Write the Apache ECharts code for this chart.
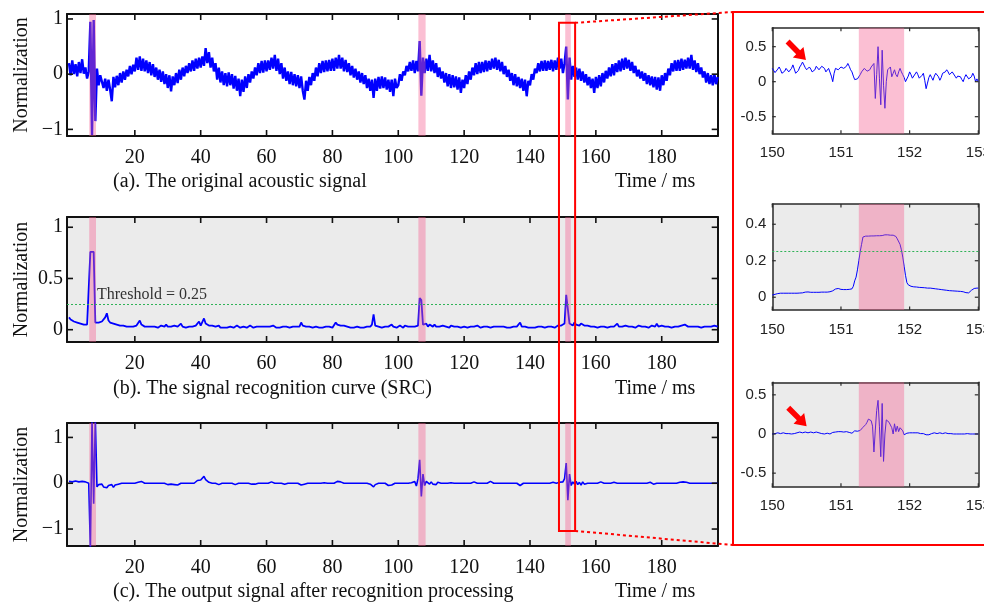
<!DOCTYPE html>
<html><head><meta charset="utf-8">
<script src="https://cdn.jsdelivr.net/npm/echarts@6/dist/echarts.min.js"></script>
<style>html,body{margin:0;padding:0;background:#fff}#c{width:984px;height:603px}</style>
</head><body><div id="c"></div>
<script>
// ---------------- data ----------------
const timeTicks = [20, 40, 60, 80, 100, 120, 140, 160, 180];
const yTicksA = [-1, 0, 1];
const yTicksB = [0, 0.5, 1];
const yTicksC = [-1, 0, 1];
const zoomTicks = [150, 151, 152, 153];
const yTicksZA = [-0.5, 0, 0.5];
const yTicksZB = [0, 0.2, 0.4];
const yTicksZC = [-0.5, 0, 0.5];

const recognizedBands = [[6.15, 8.2], [106.1, 108.3], [150.7, 152.4]];
const zoomBand = [[151.26, 151.92]];
const threshold = 0.25;
const zoomBox = [148.8, 153.7];

// main signals: sampled every 0.5 ms from 0 ms
const mainStart = 0, mainStep = 0.5;
const originalSignal = [
 0.2,-0.02,0.25,0.0,0.18,-0.04,0.22,0.02,0.27,0.01,
 0.12,-0.08,0.05,0.95,-1.1,0.98,-0.85,0.1,-0.2,-0.02,
 -0.05,-0.25,-0.08,-0.3,-0.1,-0.28,-0.49,-0.05,-0.24,-0.03,
 -0.2,0.02,-0.15,0.05,-0.1,0.08,-0.04,0.15,0.0,0.17,
 0.05,0.3,0.08,0.32,0.06,0.28,0.05,0.25,0.02,0.22,
 -0.02,0.18,-0.05,0.12,-0.1,0.08,-0.14,0.05,-0.18,0.0,
 -0.25,-0.02,-0.31,-0.04,-0.2,0.02,-0.16,0.08,-0.1,0.12,
 -0.04,0.15,0.02,0.2,0.05,0.25,0.06,0.28,0.1,0.3,
 0.12,0.32,0.15,0.47,0.2,0.4,0.12,0.3,0.05,0.2,
 -0.1,0.12,-0.15,0.05,-0.2,0.02,-0.22,0.03,-0.2,0.0,
 -0.26,-0.03,-0.3,-0.08,-0.4,-0.1,-0.32,-0.04,-0.25,0.0,
 -0.15,0.05,-0.08,0.12,-0.02,0.2,0.02,0.24,0.03,0.25,
 0.05,0.25,0.08,0.3,0.1,0.35,0.06,0.28,0.0,0.2,
 -0.08,0.12,-0.12,0.05,-0.18,0.04,-0.2,0.0,-0.22,-0.02,
 -0.25,-0.04,-0.3,-0.46,-0.12,-0.3,-0.05,-0.2,0.02,-0.12,
 0.12,-0.04,0.2,0.02,0.24,0.04,0.25,0.05,0.26,0.06,
 0.28,0.06,0.3,0.1,0.35,0.1,0.3,0.05,0.26,0.04,
 0.2,-0.02,0.15,-0.06,0.1,-0.1,0.05,-0.15,0.02,-0.18,
 -0.02,-0.25,-0.08,-0.3,-0.1,-0.43,-0.08,-0.3,-0.05,-0.26,
 -0.04,-0.25,-0.06,-0.28,-0.1,-0.32,-0.1,-0.4,-0.08,-0.25,
 -0.2,0.0,-0.12,0.05,-0.02,0.15,0.05,0.22,0.06,0.25,
 0.02,0.24,0.05,0.6,-0.39,0.3,0.02,0.28,0.06,0.35,
 0.05,0.25,0.02,0.2,-0.05,0.12,-0.08,0.05,-0.15,0.02,
 -0.22,0.0,-0.25,-0.02,-0.24,-0.04,-0.28,-0.06,-0.34,-0.1,
 -0.25,-0.02,-0.18,0.05,-0.1,0.12,-0.02,0.2,0.0,0.22,
 0.02,0.22,0.04,0.25,0.05,0.24,0.08,0.28,0.1,0.3,
 0.08,0.26,0.05,0.22,0.0,0.15,-0.05,0.08,-0.12,0.02,
 -0.2,0.0,-0.22,-0.05,-0.25,-0.08,-0.3,-0.1,-0.4,-0.12,
 -0.2,0.0,-0.1,0.1,0.02,0.2,0.05,0.24,0.06,0.25,
 0.06,0.24,0.08,0.26,0.05,0.25,0.08,0.3,0.1,0.28,
 0.02,0.2,0.5,-0.46,0.3,-0.1,0.15,-0.05,0.12,-0.1,
 0.1,-0.12,0.05,-0.15,0.0,-0.2,-0.05,-0.25,-0.08,-0.34,
 -0.05,-0.25,-0.02,-0.22,0.02,-0.15,0.06,-0.08,0.12,-0.04,
 0.18,-0.02,0.2,0.04,0.25,0.05,0.28,0.08,0.3,0.1,
 0.26,0.06,0.22,0.02,0.15,-0.04,0.08,-0.08,0.05,-0.12,
 0.02,-0.18,-0.02,-0.2,-0.04,-0.24,-0.05,-0.28,-0.06,-0.3,
 -0.02,-0.2,0.02,-0.12,0.1,-0.02,0.2,0.05,0.25,0.06,
 0.26,0.06,0.28,0.08,0.26,0.1,0.3,0.1,0.35,0.08,
 0.25,0.04,0.2,0.0,0.12,-0.06,0.05,-0.15,0.02,-0.18,
 -0.02,-0.2,0.0,-0.18,-0.05
];
const recognitionCurve = [
 .12,.1,.09,.08,.07,.07,.06,.06,.07,.05,
 .06,.05,.06,.76,.77,.76,.07,.08,.07,.08,
 .08,.09,.12,.16,.09,.07,.06,.06,.05,.05,
 .04,.04,.05,.04,.03,.03,.04,.03,.03,.03,
 .03,.04,.03,.09,.05,.04,.03,.04,.03,.03,
 .03,.02,.03,.03,.02,.03,.04,.03,.03,.05,
 .03,.04,.03,.03,.04,.05,.03,.04,.06,.03,
 .03,.02,.03,.03,.02,.03,.03,.04,.04,.08,
 .04,.04,.11,.06,.05,.04,.03,.04,.03,.03,
 .03,.04,.02,.03,.02,.03,.02,.02,.03,.03,
 .02,.03,.04,.03,.02,.02,.03,.02,.02,.03,
 .04,.03,.02,.03,.03,.02,.03,.04,.03,.02,
 .03,.02,.03,.03,.04,.03,.02,.03,.02,.03,
 .03,.02,.03,.03,.02,.02,.03,.02,.03,.02,
 .03,.07,.04,.03,.03,.02,.03,.03,.02,.03,
 .03,.02,.02,.03,.02,.02,.03,.02,.03,.02,
 .02,.03,.07,.05,.04,.04,.03,.04,.03,.03,
 .03,.02,.03,.02,.02,.03,.03,.02,.03,.02,
 .03,.03,.02,.03,.05,.15,.04,.03,.03,.02,
 .02,.03,.03,.02,.03,.02,.05,.03,.03,.02,
 .03,.04,.03,.02,.04,.03,.03,.02,.03,.04,
 .03,.04,.04,.31,.29,.05,.04,.06,.03,.05,
 .04,.03,.05,.03,.04,.03,.03,.04,.03,.03,
 .03,.02,.04,.03,.03,.04,.03,.03,.02,.03,
 .03,.03,.02,.03,.03,.02,.03,.03,.04,.03,
 .02,.03,.03,.02,.03,.03,.02,.03,.03,.04,
 .03,.02,.03,.02,.03,.03,.02,.03,.02,.03,
 .03,.02,.03,.03,.07,.03,.04,.03,.02,.02,
 .03,.02,.03,.02,.02,.03,.02,.03,.02,.02,
 .02,.03,.02,.03,.02,.02,.03,.04,.03,.04,
 .05,.06,.34,.33,.06,.05,.04,.07,.05,.06,
 .04,.06,.05,.04,.03,.04,.03,.03,.04,.03,
 .03,.02,.03,.03,.02,.03,.03,.02,.03,.03,
 .04,.03,.03,.06,.03,.04,.03,.03,.04,.03,
 .03,.02,.03,.03,.02,.03,.04,.03,.03,.02,
 .03,.03,.02,.03,.04,.03,.03,.06,.03,.03,
 .04,.03,.03,.02,.03,.03,.02,.03,.03,.04,
 .03,.03,.04,.03,.05,.04,.03,.04,.03,.03,
 .03,.04,.03,.03,.02,.03,.03,.04,.03,.03,
 .03,.03,.04,.03,.03
];
const outputSignal = [
 .04,.05,.03,.04,.05,.04,.03,.05,.04,.04,
 .03,.02,0,-1.45,1.4,-.45,1.4,-.08,-.03,-.06,
 -.02,-.08,-.04,-.1,-.05,-.07,-.03,-.09,-.04,-.06,
 -.02,0,0,0,0,0,0,0,0,0,
 0,0,.02,.06,.04,.02,0,0,0,0,
 0,0,0,0,0,0,0,0,0,-.02,
 -.03,-.01,-.02,0,-.03,-.02,-.04,-.02,0,0,
 0,0,0,0,0,0,0,.03,.06,.04,
 .07,.05,.15,.08,.04,.02,0,0,0,0,
 0,-.03,0,0,0,0,0,0,0,0,
 0,-.03,-.02,0,0,0,0,0,0,0,
 0,-.02,.01,-.02,.02,0,0,0,0,0,
 0,0,0,.03,0,0,0,0,0,0,
 0,-.02,0,0,0,0,0,0,0,0,
 0,-.04,-.06,-.02,0,0,0,0,0,0,
 0,0,0,0,.03,.01,0,0,0,0,
 0,0,.02,.04,.02,.03,0,0,0,0,
 0,0,0,0,0,0,0,0,0,0,
 0,0,0,-.02,-.04,-.08,-.03,0,0,0,
 0,0,0,-.02,-.05,-.03,-.04,0,0,0,
 0,0,0,0,0,0,0,.03,.01,.02,
 .04,-.06,.1,.51,-.29,.2,-.05,.04,.03,-.02,
 .03,-.02,.02,-.03,.02,-.02,0,0,0,0,
 0,0,.01,-.02,0,0,0,0,0,0,
 0,0,0,0,0,.02,.03,0,0,0,
 0,0,0,0,0,.02,.04,.02,0,0,
 0,0,0,0,0,0,0,0,0,0,
 0,0,0,-.02,-.05,-.03,0,0,0,0,
 0,0,0,0,0,0,0,0,0,0,
 0,0,0,0,.02,.03,0,0,.02,.05,
 .03,.1,.44,-.37,.2,-.05,.03,-.02,.04,-.03,
 .02,-.04,.03,-.02,0,0,0,0,0,0,
 0,0,0,.03,.02,0,0,0,0,0,
 0,.02,-.02,0,.03,0,-.02,0,.02,0,
 0,0,0,0,.02,0,-.02,0,0,0,
 0,0,0,.02,0,-.02,.02,0,0,0,
 0,0,0,0,0,0,0,0,0,0,
 0,.02,.04,.03,.04,.02,0,0,0,0,
 0,0,0,0,0,0,0,0,0,0,
 0,0,0,0,0
];

// zoomed signals: 150..153 ms sampled every 0.02 ms
const zoomStart = 150, zoomStep = 0.02;
const zoomOriginal = [
 .19,.16,.13,.14,.18,.21,.17,.12,.11,.15,
 .19,.17,.14,.14,.19,.24,.18,.12,.10,.16,
 .21,.24,.28,.27,.20,.17,.19,.21,.18,.14,
 .12,.17,.22,.20,.17,.18,.22,.24,.19,.14,
 .16,.19,.19,.08,.00,.12,.19,.18,.17,.19,
 .21,.20,.19,.19,.22,.26,.22,.17,.14,.08,
 .03,.02,.04,.06,.10,.14,.16,.19,.17,.15,
 .14,.17,.21,.23,.26,-.24,.10,.50,.05,-.33,
 .45,-.05,-.38,.00,.17,.19,.21,.07,.12,.17,
 .10,.07,.14,.19,.14,.10,.06,.00,-.02,.08,
 .14,.10,.05,.06,.11,.14,.10,.05,.05,.09,
 .12,.02,-.10,-.02,.06,.10,.06,.02,.08,.12,
 .14,.07,.02,.06,.12,.10,.14,.17,.14,.10,
 .12,.14,.12,.08,.05,.08,.10,.07,.03,.00,
 .06,.10,.08,.04,.02,.07,.12,.08,.00,.04,
 .00
];
const zoomRecognition = [
 .012,.014,.016,.018,.02,.021,.022,.022,.022,.022,
 .022,.022,.022,.022,.022,.022,.022,.022,.022,.022,
 .023,.024,.024,.026,.028,.029,.029,.028,.027,.027,
 .027,.027,.027,.027,.027,.027,.028,.028,.028,.028,
 .028,.029,.03,.032,.035,.04,.045,.048,.048,.046,
 .043,.042,.042,.042,.042,.043,.043,.044,.046,.06,
 .09,.11,.15,.2,.25,.29,.33,.335,.335,.335,
 .335,.335,.336,.336,.336,.336,.337,.337,.337,.338,
 .338,.34,.342,.342,.342,.341,.34,.34,.34,.338,
 .333,.32,.31,.29,.26,.22,.17,.12,.08,.068,
 .063,.06,.058,.057,.056,.056,.055,.054,.054,.053,
 .052,.052,.051,.05,.05,.05,.049,.048,.047,.046,
 .045,.044,.043,.042,.041,.04,.039,.038,.037,.036,
 .035,.035,.034,.034,.033,.033,.032,.032,.031,.03,
 .028,.025,.023,.024,.03,.038,.044,.048,.049,.05,
 .05
];
const zoomOutput = [
 0,0,.005,.01,.015,.01,.005,.01,.015,.01,
 .005,0,.005,.005,0,0,.005,.01,.015,.02,
 .025,.02,.015,.02,.025,.02,.015,.02,.025,.02,
 .015,.02,.025,.02,.015,.01,.005,0,0,.005,
 .01,.005,0,.01,.02,.025,.025,.03,.03,.025,
 .03,.03,.025,.03,.03,.025,.02,.015,.01,.02,
 .04,.05,.035,.03,.045,.07,.085,.1,.12,.15,
 .19,.2,.17,.1,-.23,.05,.3,.43,.1,-.29,
 .39,-.35,0,.18,.16,.15,.17,.08,0,.13,
 .03,.1,.03,.08,.06,.04,-.01,0,.01,.02,
 .015,.02,.015,.01,.015,.02,.015,.01,.005,.01,
 .005,0,-.01,-.02,-.01,0,.005,.01,.015,.01,
 .005,.01,.015,.01,.005,.01,.015,.01,.005,.01,
 .005,0,0,.005,0,0,0,0,0,.005,
 0,0,.005,0,0,0,0,.005,0,0,
 0
];

// ---------------- chart ----------------
const SERIF = '"Liberation Serif", "Times New Roman", serif';
const SANS = '"Liberation Sans", Arial, sans-serif';
const BLUE = '#0000ff';
const PINK = 'rgba(245,95,145,0.4)';
const GRAY = '#ebebeb';

const panels = [
  {rect:[67,14,650.7,122], bg:'#fff', x:[-0.6,197], y:[-1.12,1.09], xt:timeTicks, yt:yTicksA, main:true,
   data:originalSignal, start:mainStart, step:mainStep, bands:recognizedBands, lw:2.4},
  {rect:[67,217,650.7,125], bg:GRAY, x:[-0.6,197], y:[-0.12,1.1], xt:timeTicks, yt:yTicksB, main:true,
   data:recognitionCurve, start:mainStart, step:mainStep, bands:recognizedBands, lw:1.8, thr:true},
  {rect:[67,423,650.7,123], bg:GRAY, x:[-0.6,197], y:[-1.37,1.315], xt:timeTicks, yt:yTicksC, main:true,
   data:outputSignal, start:mainStart, step:mainStep, bands:recognizedBands, lw:1.6},
  {rect:[772.3,27.7,206,106], bg:'#fff', x:[150,153], y:[-0.743,0.771], xt:zoomTicks, yt:yTicksZA, main:false,
   data:zoomOriginal, start:zoomStart, step:zoomStep, bands:zoomBand, lw:1},
  {rect:[772.3,204,206,106], bg:GRAY, x:[150,153], y:[-0.07,0.511], xt:zoomTicks, yt:yTicksZB, main:false,
   data:zoomRecognition, start:zoomStart, step:zoomStep, bands:zoomBand, lw:1, thr:true},
  {rect:[772.3,382.3,206,104.4], bg:GRAY, x:[150,153], y:[-0.673,0.66], xt:zoomTicks, yt:yTicksZC, main:false,
   data:zoomOutput, start:zoomStart, step:zoomStep, bands:zoomBand, lw:1}
];

const grid = [], xAxis = [], yAxis = [], series = [];
panels.forEach((p, gi) => {
  grid.push({left:p.rect[0], top:p.rect[1], width:p.rect[2], height:p.rect[3], show:true,
    containLabel:false, outerBoundsMode:'none',
    backgroundColor:p.bg, borderWidth:0});
  const font = p.main ? {fontFamily:SERIF, fontSize:20, color:'#111'} : {fontFamily:SANS, fontSize:15, color:'#222'};
  const lineW = p.main ? 2 : 1.5;
  const frameColor = p.main ? '#111' : '#2a2a2a';
  const yFmt = p.main ? (v => (v < 0 ? '\u2212' : '') + Math.abs(v)) : (v => String(v));
  ['bottom','top'].forEach((pos, k) => {
    xAxis.push({type:'value', gridIndex:gi, position:pos, min:p.x[0], max:p.x[1],
      axisLine:{show:true, onZero:false, lineStyle:{color:frameColor, width:lineW}}, splitLine:{show:false},
      axisTick:{show:false},
      axisLabel: k === 0 ? Object.assign({show:true, customValues:p.xt, margin:12,
         showMinLabel:true, showMaxLabel:true, formatter: v => String(v)}, font) : {show:false}});
  });
  ['left','right'].forEach((pos, k) => {
    yAxis.push({type:'value', gridIndex:gi, position:pos, min:p.y[0], max:p.y[1],
      axisLine:{show:true, onZero:false, lineStyle:{color:frameColor, width:lineW}}, splitLine:{show:false},
      axisTick:{show:false},
      axisLabel: k === 0 ? Object.assign({show:true, customValues:p.yt, margin: p.main ? 4 : 6,
         showMinLabel:true, showMaxLabel:true, formatter: yFmt}, font) : {show:false}});
  });
  const line = {type:'line', xAxisIndex:2*gi, yAxisIndex:2*gi, symbol:'none', showSymbol:false,
    animation:false, silent:true, z:2,
    lineStyle:{color:BLUE, width:p.lw},
    data: p.data.map((v, i) => [p.start + i * p.step, v])};
  if (p.thr) {
    line.markLine = {silent:true, animation:false, symbol:['none','none'], label:{show:false},
      lineStyle:{color:'#2fb257', type:[2,2], width:1}, data:[{yAxis:threshold}]};
  }
  series.push(line);
  series.push({type:'custom', xAxisIndex:2*gi, yAxisIndex:2*gi, z:3, silent:true, animation:false,
    data:p.bands, encode:{x:[0,1]},
    renderItem:(params, api) => {
      const s = api.coord([api.value(0), p.y[0]]);
      const e = api.coord([api.value(1), p.y[0]]);
      const cs = params.coordSys;
      return {type:'rect', shape:{x:s[0], y:cs.y, width:e[0]-s[0], height:cs.height}, style:{fill:PINK}};
    }});
});

const chart = echarts.init(document.getElementById('c'));
chart.setOption({animation:false, backgroundColor:'#fff', grid, xAxis, yAxis, series});

// ---------------- annotations ----------------
const graphic = [];
// inward tick marks on all four sides of every panel, placed through the axes
panels.forEach((p, gi) => {
  const finder = {xAxisIndex:2*gi, yAxisIndex:2*gi};
  const bl = chart.convertToPixel(finder, [p.x[0], p.y[0]]);
  const tr = chart.convertToPixel(finder, [p.x[1], p.y[1]]);
  const len = p.main ? 6 : 3.5;
  const st = {stroke: p.main ? '#111' : '#2a2a2a', lineWidth: p.main ? 1.6 : 1.2};
  p.xt.forEach(v => {
    const x = chart.convertToPixel(finder, [v, p.y[0]])[0];
    graphic.push({type:'line', z:40, silent:true, shape:{x1:x, y1:bl[1], x2:x, y2:bl[1]-len}, style:st});
    graphic.push({type:'line', z:40, silent:true, shape:{x1:x, y1:tr[1], x2:x, y2:tr[1]+len}, style:st});
  });
  p.yt.forEach(v => {
    const y = chart.convertToPixel(finder, [p.x[0], v])[1];
    graphic.push({type:'line', z:40, silent:true, shape:{x1:bl[0], y1:y, x2:bl[0]+len, y2:y}, style:st});
    graphic.push({type:'line', z:40, silent:true, shape:{x1:tr[0], y1:y, x2:tr[0]-len, y2:y}, style:st});
  });
});

const txt = (x, y, text, size) => ({type:'text', x, y, z:50, silent:true,
  style:{text, font: size + 'px ' + SERIF, fill:'#111', textAlign:'left', textVerticalAlign:'middle'}});
const captions = ['(a). The original acoustic signal', '(b). The signal recognition curve (SRC)',
  '(c). The output signal after recognition processing'];
const capY = [182, 389, 592];
captions.forEach((c, i) => {
  graphic.push(txt(113, capY[i], c, 20));
  graphic.push(txt(615, capY[i], 'Time / ms', 20));
});
[0,1,2].forEach(i => {
  const r = panels[i].rect;
  graphic.push({type:'text', x:21.5, y:r[1] + r[3]/2, rotation:Math.PI/2, z:50, silent:true,
    style:{text:'Normalization', font:'20px ' + SERIF, fill:'#111', textAlign:'center', textVerticalAlign:'middle'}});
});
graphic.push({type:'text', x:97, y:295, z:50, silent:true,
  style:{text:'Threshold = 0.25', font:'16px ' + SERIF, fill:'#333', textAlign:'left', textVerticalAlign:'middle'}});

const tl = chart.convertToPixel({xAxisIndex:0, yAxisIndex:0}, [zoomBox[0], 0.93]);
const br = chart.convertToPixel({xAxisIndex:4, yAxisIndex:4}, [zoomBox[1], -1.04]);
graphic.push({type:'rect', z:60, silent:true, shape:{x:tl[0], y:tl[1], width:br[0]-tl[0], height:br[1]-tl[1]},
  style:{fill:'none', stroke:'#ff0000', lineWidth:2}});
const boxL = 733, boxT = 12, boxB = 545;
graphic.push({type:'rect', z:60, silent:true, shape:{x:boxL, y:boxT, width:270, height:boxB-boxT},
  style:{fill:'none', stroke:'#ff0000', lineWidth:2}});
graphic.push({type:'line', z:60, silent:true, shape:{x1:br[0], y1:tl[1], x2:boxL, y2:boxT},
  style:{stroke:'#ff0000', lineWidth:2, lineDash:[3,3]}});
graphic.push({type:'line', z:60, silent:true, shape:{x1:br[0], y1:br[1], x2:boxL, y2:boxB},
  style:{stroke:'#ff0000', lineWidth:2, lineDash:[3,3]}});

function arrow(tip) {
  const d = [Math.SQRT1_2, Math.SQRT1_2], n = [-Math.SQRT1_2, Math.SQRT1_2];
  const loc = [[-26,-2.8],[-26,2.8],[-11,2.8],[-11,7.5],[0,0],[-11,-7.5],[-11,-2.8]];
  const pts = loc.map(([a, b]) => [tip[0] + a*d[0] + b*n[0], tip[1] + a*d[1] + b*n[1]]);
  return {type:'polygon', z:60, silent:true, shape:{points:pts}, style:{fill:'#ff0000'}};
}
graphic.push(arrow(chart.convertToPixel({xAxisIndex:6, yAxisIndex:6}, [150.49, 0.31])));
graphic.push(arrow(chart.convertToPixel({xAxisIndex:10, yAxisIndex:10}, [150.5, 0.1])));

chart.setOption({graphic});
</script>
</body></html>
